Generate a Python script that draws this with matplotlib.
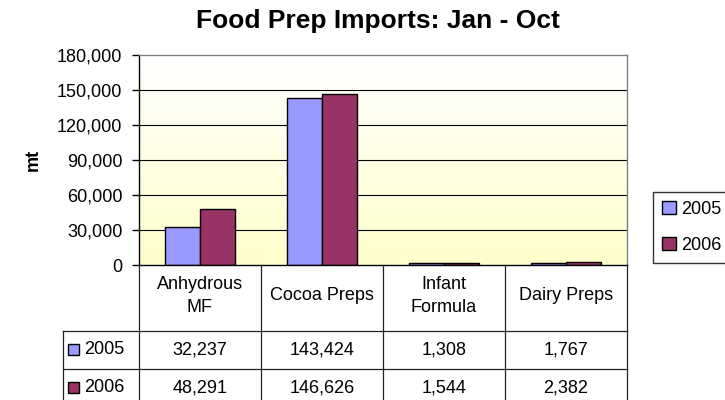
import matplotlib.pyplot as plt
import numpy as np
from matplotlib.patches import Rectangle
from matplotlib.transforms import blended_transform_factory

plt.rcParams['font.family'] = ['Liberation Sans', 'DejaVu Sans']

# data
categories = ['Anhydrous\nMF', 'Cocoa Preps', 'Infant\nFormula', 'Dairy Preps']
years = ['2005', '2006']
imports_2005 = [32237, 143424, 1308, 1767]
imports_2006 = [48291, 146626, 1544, 2382]
colors = ['#9999FF', '#993366']

fig = plt.figure(figsize=(7.25, 4), dpi=100)
ax = fig.add_axes([139/725, 1 - 265/400, (627 - 139)/725, (265 - 55)/400])

# gradient background, white at top to pale yellow at bottom
grad = np.linspace(0, 1, 256).reshape(-1, 1)
top = np.array([1.0, 1.0, 1.0])
bot = np.array([1.0, 1.0, 0.80])
img = top + (bot - top) * grad[:, :, None]
ax.imshow(img, extent=[0, 1, 0, 1], transform=ax.transAxes, aspect='auto', zorder=0)

x = np.arange(len(categories))
w = 0.287
series = [imports_2005, imports_2006]
bars = []
for i, vals in enumerate(series):
    b = ax.bar(x + (i - 0.5) * w, vals, width=w, color=colors[i],
               edgecolor='black', linewidth=1.0, zorder=3, label=years[i])
    bars.append(b)

ax.set_xlim(-0.5, 3.5)
ax.set_ylim(0, 180000)
ax.set_yticks(np.arange(0, 180001, 30000))
ax.yaxis.set_major_formatter(plt.FuncFormatter(lambda v, p: f'{v:,.0f}'))
ax.tick_params(axis='y', labelsize=13, length=5, width=1, pad=7, direction='out')
ax.set_xticks([])
for yv in np.arange(30000, 150001, 30000):
    ax.axhline(yv, color='black', linewidth=0.8, zorder=1)
ax.spines['top'].set_color('#808080')
ax.spines['right'].set_color('#808080')
ax.spines['left'].set_color('black')
ax.spines['bottom'].set_color('black')
for s in ax.spines.values():
    s.set_linewidth(1.0)
    s.set_zorder(4)

ax.set_ylabel('mt', fontsize=13, fontweight='bold', labelpad=11)
fig.text(378/725, 1 - 21/400, 'Food Prep Imports: Jan - Oct', fontsize=19,
         fontweight='bold', ha='center', va='center')

# data table below the plot
oax = fig.add_axes([0, 0, 1, 1], facecolor='none')
oax.set_xlim(0, 725)
oax.set_ylim(400, 0)
oax.axis('off')
tr = blended_transform_factory(ax.transData, oax.transData)

row_label_w = 76 / 122
x_left = -0.5 - row_label_w
lc = '#222222'
lw = 0.9
for b in np.arange(-0.5, len(categories), 1.0):
    oax.plot([b, b], [265, 410], color=lc, lw=lw, transform=tr, clip_on=False)
oax.plot([x_left, x_left], [331, 410], color=lc, lw=lw, transform=tr, clip_on=False)
for yl in [331, 369, 407]:
    oax.plot([x_left, 3.5], [yl, yl], color=lc, lw=lw, transform=tr, clip_on=False)

for i, c in enumerate(categories):
    oax.text(i, 296, c, ha='center', va='center', fontsize=13, linespacing=1.4,
             transform=tr)
row_y = [350, 388]
for r, vals in enumerate(series):
    for i, v in enumerate(vals):
        oax.text(i, row_y[r], f'{v:,}', ha='center', va='center', fontsize=13,
                 transform=tr)
    oax.add_patch(Rectangle((68, row_y[r] - 6), 11, 11, facecolor=colors[r],
                            edgecolor='black', linewidth=1.0))
    oax.text(84, row_y[r], years[r], ha='left', va='center', fontsize=13)

leg = fig.legend(handles=bars, labels=years, loc='upper left',
                 bbox_to_anchor=(653/725, 1 - 192/400), fontsize=13,
                 frameon=True, fancybox=False, edgecolor='black',
                 handlelength=0.75, handleheight=0.75, handletextpad=0.3,
                 labelspacing=1.05, borderpad=0.5, borderaxespad=0)
leg.get_frame().set_linewidth(1.0)

fig.savefig('out.png', dpi=100)
